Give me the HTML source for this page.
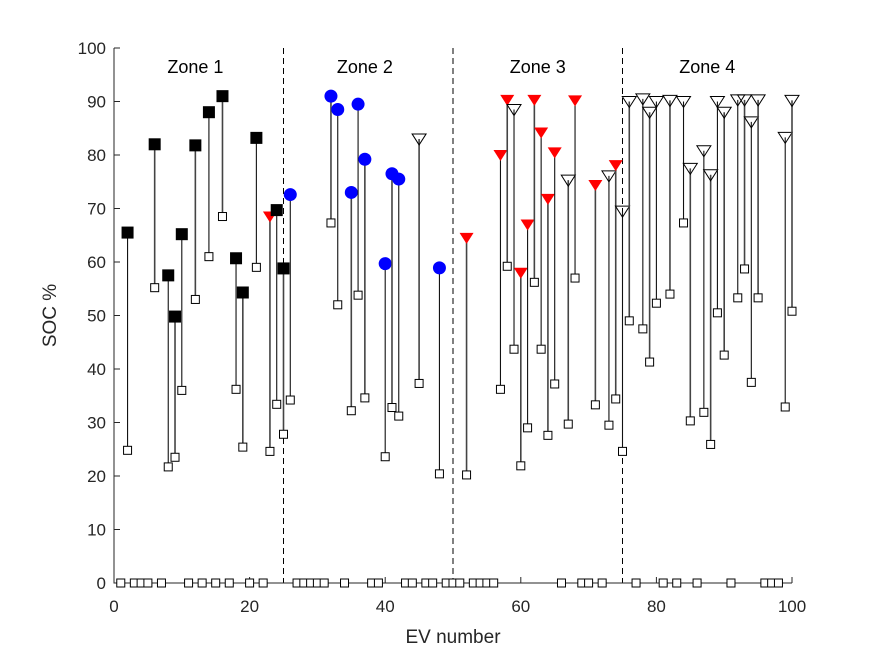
<!DOCTYPE html>
<html><head><meta charset="utf-8"><style>
body{margin:0;background:#fff;}
svg text{font-family:"Liberation Sans",sans-serif;}
</style></head><body>
<svg id="chart" width="875" height="656" xmlns="http://www.w3.org/2000/svg">
<rect width="875" height="656" fill="#fff"/>
</svg>
<script>
// EV numbers, arrival SOC (bottom), departure SOC (top), marker type
const evIds   = [2,6,8,9,10,12,14,16,18,19,21,23,24,25,26, 32,33,35,36,37,40,41,42,45,48,52, 57,58,59,60,61,62,63,64,65,67,68,71,73,74,75, 76,78,79,80,82,84,85,87,88,89,90,92,93,94,95,99,100];
const socTop  = [65.5,82,57.5,49.8,65.2,81.8,88,91,60.7,54.3,83.2,68.5,69.7,58.8,72.6, 91,88.5,73,89.5,79.2,59.7,76.5,75.5,83,58.9,64.5, 80,90.3,88.5,58,67,90.3,84.2,71.8,80.5,75.3,90.2,74.4,76.1,78.1,69.5, 90,90.5,88,90,90.2,90,77.5,80.8,76.3,90,88,90.3,90.3,86.2,90.3,83.3,90.2];
const socBot  = [24.8,55.2,21.7,23.5,36,53,61,68.5,36.2,25.4,59,24.6,33.4,27.8,34.2, 67.3,52,32.2,53.8,34.6,23.6,32.8,31.2,37.3,20.4,20.2, 36.2,59.2,43.7,21.9,29,56.2,43.7,27.6,37.2,29.7,57,33.3,29.5,34.4,24.6, 49,47.5,41.3,52.3,54,67.3,30.3,31.9,25.9,50.5,42.6,53.3,58.7,37.5,53.3,32.9,50.8];
const markerType = ['sq','sq','sq','sq','sq','sq','sq','sq','sq','sq','sq','rt','sq','sq','ci', 'ci','ci','ci','ci','ci','ci','ci','ci','ot','ci','rt', 'rt','rt','ot','rt','rt','rt','rt','rt','rt','ot','rt','rt','ot','rt','ot', 'ot','ot','ot','ot','ot','ot','ot','ot','ot','ot','ot','ot','ot','ot','ot','ot','ot'];
const zeroIds = [1,3,4,5,7,11,13,15,17,20,22,27,28,29,30,31,34,38,39,43,44,46,47,49,50,51,53,54,55,56,66,69,70,72,77,81,83,86,91,96,97,98];
const xTicks = [0,20,40,60,80,100];
const yTicks = [0,10,20,30,40,50,60,70,80,90,100];
const zoneBounds = [25,50,75];
const zoneLabels = ['Zone 1','Zone 2','Zone 3','Zone 4'];
const zoneLabelX = [12,37,62.5,87.5];

const svg=document.getElementById('chart');
const NS='http://www.w3.org/2000/svg';
const X0=114,X1=792,Y0=583,Y1=48;
const xs=v=>X0+(X1-X0)*v/100;
const ys=v=>Y0-(Y0-Y1)*v/100;
function mk(tag,attrs){const e=document.createElementNS(NS,tag);for(const k in attrs)e.setAttribute(k,attrs[k]);svg.appendChild(e);return e;}

zoneBounds.forEach(z=>{
  const l=mk('line',{x1:xs(z),x2:xs(z),y1:Y1,y2:Y0,stroke:'#000','stroke-width':1,'stroke-dasharray':'6,4'});
  
  
});
zoneLabels.forEach((t,i)=>{
  const e=mk('text',{x:xs(zoneLabelX[i]),y:73,'text-anchor':'middle','font-size':18,fill:'#000'});
  e.textContent=t;
  
  
});

const ax=mk('path',{d:`M${X0},${Y1} V${Y0} H${X1}`,stroke:'#262626',fill:'none','stroke-width':1});


yTicks.forEach(v=>{
  mk('line',{x1:X0,x2:X0+6,y1:ys(v),y2:ys(v),stroke:'#262626'});
  const t=mk('text',{x:X0-8,y:ys(v)+6,'text-anchor':'end','font-size':17,fill:'#262626'});
  t.textContent=v;
  
  
});
xTicks.forEach(v=>{
  mk('line',{x1:xs(v),x2:xs(v),y1:Y0,y2:Y0-6,stroke:'#262626'});
  const t=mk('text',{x:xs(v),y:Y0+29,'text-anchor':'middle','font-size':17,fill:'#262626'});
  t.textContent=v;
  
  
});
const xl=mk('text',{x:(X0+X1)/2,y:643,'text-anchor':'middle','font-size':19,fill:'#262626'});
xl.textContent='EV number';


const yl=mk('text',{x:0,y:0,'text-anchor':'middle','font-size':19,fill:'#262626',transform:`translate(56,${(Y0+Y1)/2}) rotate(-90)`});
yl.textContent='SOC %';



zeroIds.forEach(id=>{
  const r=mk('rect',{x:xs(id)-4,y:ys(0)-4,width:8,height:8,fill:'#fff',stroke:'#000','stroke-width':1});
  
  
});

evIds.forEach((id,i)=>{
  const cx=xs(id),yt=ys(socTop[i]),yb=ys(socBot[i]);
  const l=mk('line',{x1:cx,x2:cx,y1:yt,y2:yb,stroke:i%2?'#444':'#111','stroke-width':i%2?1.6:1.1});
  
  
  const b=mk('rect',{x:cx-4,y:yb-4,width:8,height:8,fill:'#fff',stroke:'#000','stroke-width':1});
  
  
  const t=markerType[i];
  let m;
  if(t==='sq') m=mk('rect',{x:cx-6,y:yt-6,width:12,height:12,fill:'#000'});
  else if(t==='ci') m=mk('circle',{cx:cx,cy:yt,r:6.5,fill:'#0000ff'});
  else if(t==='rt') m=mk('path',{d:`M${cx-7},${yt-5} H${cx+7} L${cx},${yt+6} Z`,fill:'#ff0000'});
  else m=mk('path',{d:`M${cx-7},${yt-5} H${cx+7} L${cx},${yt+6} Z`,fill:'none',stroke:'#000','stroke-width':1});
  
  
});
</script>
</body></html>
